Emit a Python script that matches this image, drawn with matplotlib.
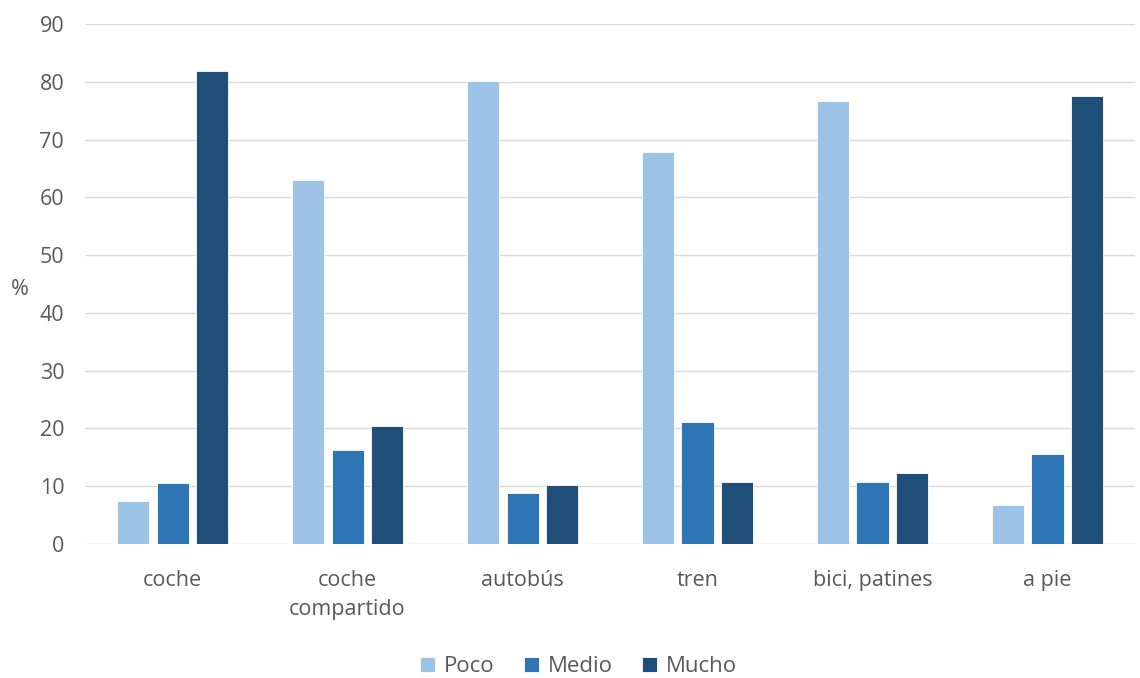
import numpy as np
import matplotlib
matplotlib.use("Agg")
import matplotlib.pyplot as plt

categories = ["coche", "coche\ncompartido", "autobús", "tren", "bici, patines", "a pie"]
series = ["Poco", "Medio", "Mucho"]
poco = [7.4, 63.0, 80.2, 67.8, 76.7, 6.8]
medio = [10.6, 16.3, 8.8, 21.2, 10.8, 15.6]
mucho = [81.8, 20.4, 10.2, 10.8, 12.3, 77.6]
colors = ["#9DC3E6", "#2E75B6", "#1F4E79"]

plt.rcParams["font.family"] = ["Open Sans", "DejaVu Sans"]
text_color = "#595959"

fig = plt.figure(figsize=(11.4, 6.78), dpi=100)
ax = fig.add_axes([0.0746, 0.1976, 0.9210, 0.767])

x = np.arange(len(categories))
width = 0.183
step = 0.226
for i, (name, vals) in enumerate(zip(series, [poco, medio, mucho])):
    ax.bar(x + (i - 1) * step, vals, width, color=colors[i], label=name,
           edgecolor="white", linewidth=0.6, zorder=3)

ax.set_xlim(-0.5, len(categories) - 0.5)
ax.set_ylim(0, 90)
ax.set_yticks(range(0, 91, 10))
ax.grid(axis="y", color="#D9D9D9", linewidth=1.0, zorder=0)
for s in ax.spines.values():
    s.set_visible(False)
ax.tick_params(axis="both", length=0, colors=text_color, labelsize=15.5)
ax.tick_params(axis="y", pad=15)
ax.tick_params(axis="x", pad=19)
ax.set_xticks(x)
ax.set_xticklabels(categories, linespacing=1.5)
ax.set_ylabel("%", rotation=0, color=text_color, fontsize=15.5)
ax.yaxis.set_label_coords(-0.062, 0.47)

leg = ax.legend(loc="lower center", bbox_to_anchor=(0.47, -0.295), ncol=3, frameon=False,
                fontsize=16, handlelength=0.7, handleheight=0.7, handletextpad=0.4,
                columnspacing=1.3)
for t in leg.get_texts():
    t.set_color(text_color)

fig.savefig("out.png", dpi=100)
